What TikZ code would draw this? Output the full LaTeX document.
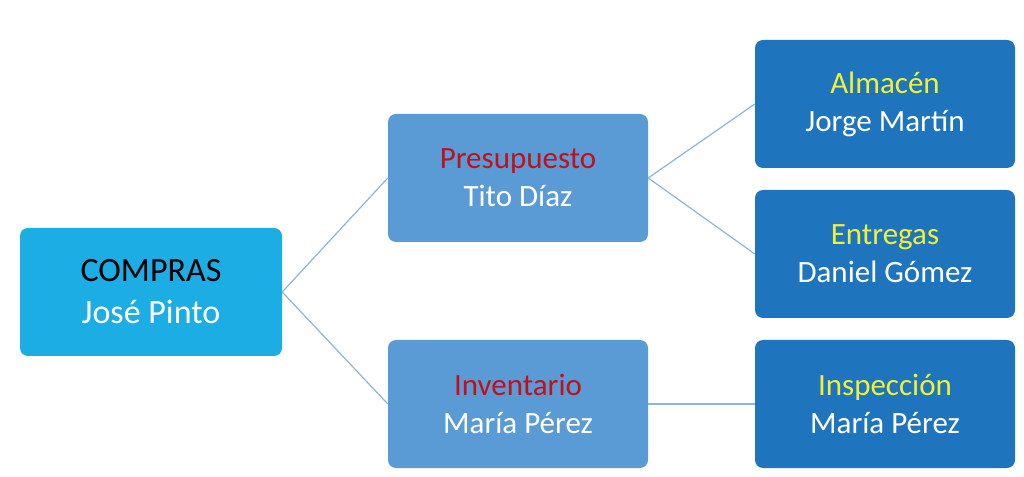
\documentclass[tikz,border=0pt]{standalone}
\usepackage{fontspec}
\setmainfont{Carlito}
\definecolor{cyanbox}{HTML}{1CADE4}
\definecolor{midbox}{HTML}{5A9BD5}
\definecolor{darkbox}{HTML}{1F75BD}
\definecolor{linec}{HTML}{8FB4D6}
\definecolor{redt}{HTML}{C0111B}
\definecolor{yelt}{HTML}{F0F03A}
\begin{document}
\begin{tikzpicture}[x=1pt,y=1pt,
  box/.style={rounded corners=8pt,minimum width=260pt,minimum height=128pt,align=center,font=\fontsize{31}{38}\selectfont,text=white,inner sep=0pt},
  conn/.style={draw=linec,line width=1.2pt}]
\useasboundingbox (0,0) rectangle (1024,476);
\node[box,fill=cyanbox,minimum width=262pt,font=\fontsize{34}{42}\selectfont] (c) at (151,184) {\textcolor{black}{COMPRAS}\\José Pinto};
\node[box,fill=midbox] (p) at (518,298) {\textcolor{redt}{Presupuesto}\\Tito Díaz};
\node[box,fill=midbox] (i) at (518,72) {\textcolor{redt}{Inventario}\\María Pérez};
\node[box,fill=darkbox] (a) at (885,372) {\textcolor{yelt}{Almacén}\\Jorge Martín};
\node[box,fill=darkbox] (e) at (885,222) {\textcolor{yelt}{Entregas}\\Daniel Gómez};
\node[box,fill=darkbox] (s) at (885,72) {\textcolor{yelt}{Inspección}\\María Pérez};
\draw[conn] (c.east) -- (p.west);
\draw[conn] (c.east) -- (i.west);
\draw[conn] (p.east) -- (a.west);
\draw[conn] (p.east) -- (e.west);
\draw[conn] (i.east) -- (s.west);
\end{tikzpicture}
\end{document}
